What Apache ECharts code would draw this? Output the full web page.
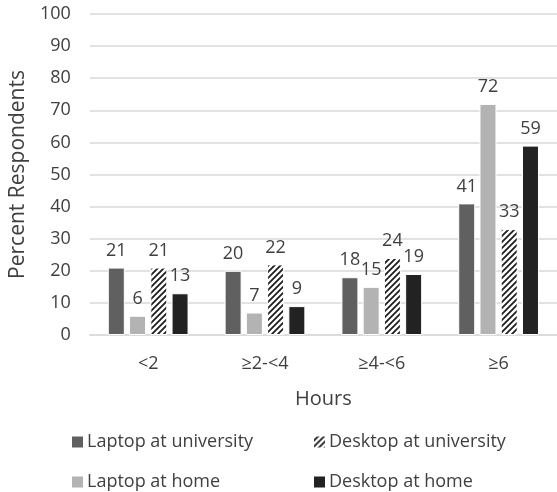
<!DOCTYPE html>
<html>
<head>
<meta charset="utf-8">
<script src="https://cdn.jsdelivr.net/npm/echarts@6/dist/echarts.min.js"></script>
<style>
  html, body { margin: 0; padding: 0; background: #fff; }
  #chart { width: 557px; height: 492px; }
</style>
</head>
<body>
<div id="chart"></div>
<script>
// Hours of computer use, by device and location
const categories = ['<2', '≥2-<4', '≥4-<6', '≥6'];
const laptopUniversity = [21, 20, 18, 41];
const laptopHome = [6, 7, 15, 72];
const desktopUniversity = [21, 22, 24, 33];
const desktopHome = [13, 9, 19, 59];
const yTicks = [0, 10, 20, 30, 40, 50, 60, 70, 80, 90, 100];

const FONT = '"Open Sans", sans-serif';
const TEXT = '#404040';

// diagonal hatch used for the desktop-at-university bars
function makeHatch() {
  const s = 6;
  const c = document.createElement('canvas');
  c.width = s; c.height = s;
  const g = c.getContext('2d');
  g.fillStyle = '#ffffff';
  g.fillRect(0, 0, s, s);
  g.strokeStyle = '#1e1e1e';
  g.lineWidth = 1.8;
  g.beginPath();
  g.moveTo(-1, s + 1); g.lineTo(s + 1, -1);
  g.moveTo(-1, 1); g.lineTo(1, -1);
  g.moveTo(s - 1, s + 1); g.lineTo(s + 1, s - 1);
  g.stroke();
  return c;
}
const hatch = { image: makeHatch(), repeat: 'repeat' };

const label = {
  show: true,
  position: 'top',
  distance: 8,
  color: TEXT,
  fontSize: 18,
  fontFamily: FONT
};

function bar(name, data, color) {
  return {
    name: name,
    type: 'bar',
    data: data,
    barWidth: 17,
    barGap: '25%',
    itemStyle: { color: color, borderColor: '#ffffff', borderWidth: 1 },
    label: label,
    emphasis: { disabled: true }
  };
}

// one legend entry per block so the key sits in a 2x2 arrangement
function legendItem(name, left, top) {
  return {
    data: [name],
    left: left, top: top,
    padding: 0,
    itemWidth: 13, itemHeight: 13,
    icon: 'rect',
    textStyle: { color: TEXT, fontSize: 18, fontFamily: FONT, padding: [0, 0, 0, -2] },
    selectedMode: false
  };
}

const chart = echarts.init(document.getElementById('chart'), null, { renderer: 'canvas' });
chart.setOption({
  animation: false,
  backgroundColor: '#ffffff',
  grid: { left: 89, right: -3, top: 14, bottom: 157 },
  legend: [
    legendItem('Laptop at university', 70, 433),
    legendItem('Desktop at university', 312, 433),
    legendItem('Laptop at home', 70, 473),
    legendItem('Desktop at home', 312, 473)
  ],
  xAxis: {
    type: 'category',
    data: categories,
    name: 'Hours',
    nameLocation: 'middle',
    nameGap: 54,
    nameTextStyle: { color: TEXT, fontSize: 20, fontFamily: FONT },
    axisLine: { lineStyle: { color: '#d9d9d9', width: 1.5 } },
    axisTick: { show: false },
    axisLabel: { color: TEXT, fontSize: 18, fontFamily: FONT, margin: 20 }
  },
  yAxis: {
    type: 'value',
    min: yTicks[0],
    max: yTicks[yTicks.length - 1],
    interval: 10,
    name: 'Percent Respondents',
    nameLocation: 'middle',
    nameGap: 60,
    nameTextStyle: { color: TEXT, fontSize: 21, fontFamily: FONT },
    axisLine: { show: false },
    axisTick: { show: false },
    axisLabel: { color: TEXT, fontSize: 18, fontFamily: FONT, margin: 19 },
    splitLine: { lineStyle: { color: '#d9d9d9', width: 1.5 } }
  },
  series: [
    bar('Laptop at university', laptopUniversity, '#606060'),
    bar('Laptop at home', laptopHome, '#b3b3b3'),
    bar('Desktop at university', desktopUniversity, hatch),
    bar('Desktop at home', desktopHome, '#222222')
  ]
});
</script>
</body>
</html>
